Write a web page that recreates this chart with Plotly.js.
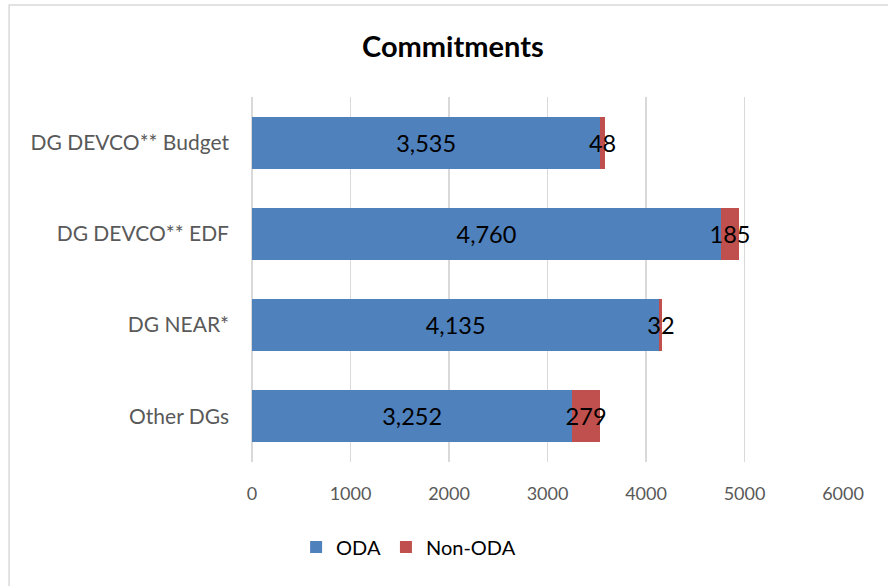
<!DOCTYPE html>
<html>
<head>
<meta charset="utf-8">
<script src="https://cdn.plot.ly/plotly-3.0.1.min.js"></script>
<style>
  body { margin: 0; background: #fff; }
  #chart { width: 888px; height: 586px; }
</style>
</head>
<body>
<div id="chart"></div>
<script>
// categories listed bottom to top
const categories = ["Other DGs", "DG NEAR*", "DG DEVCO** EDF", "DG DEVCO** Budget"];
const odaValues = [3252, 4135, 4760, 3535];
const nonOdaValues = [279, 32, 185, 48];
const xTicks = [0, 1000, 2000, 3000, 4000, 5000, 6000];

const fmt = v => v.toLocaleString("en-US");

const labelFont = { family: "Lato, 'Open Sans', sans-serif", size: 23.5, color: "#000" };

let data = [
  {
    type: "bar",
    orientation: "h",
    name: "ODA",
    y: categories,
    x: odaValues,
    text: odaValues.map(fmt),
    textposition: "inside",
    insidetextanchor: "middle",
    textangle: 0,
    constraintext: "none",
    textfont: labelFont,
    marker: { color: "#4F81BD" },
    hoverinfo: "x+name",
  },
  {
    type: "bar",
    orientation: "h",
    name: "Non-ODA",
    y: categories,
    x: nonOdaValues,
    text: nonOdaValues.map(fmt),
    textposition: "inside",
    insidetextanchor: "middle",
    textangle: 0,
    constraintext: "none",
    textfont: labelFont,
    marker: { color: "#C0504D" },
    hoverinfo: "x+name",
  },
];

let layout = {
  width: 888,
  height: 586,
  margin: { l: 252, r: 45, t: 97, b: 124 },
  barmode: "stack",
  bargap: 0.43,
  paper_bgcolor: "#fff",
  plot_bgcolor: "#fff",
  font: { family: "Lato, 'Open Sans', sans-serif", color: "#595959" },
  title: {
    text: "<b>Commitments</b>",
    font: { size: 29, color: "#000" },
    xref: "container", x: 0.51,
    yref: "container", y: 0.92, yanchor: "middle",
  },
  xaxis: {
    range: [0, 6000],
    tickvals: xTicks,
    ticktext: xTicks.map(String),
    showgrid: true,
    gridcolor: "#D9D9D9",
    gridwidth: 1.5,
    zeroline: true,
    zerolinecolor: "#D9D9D9",
    zerolinewidth: 1.5,
    showline: false,
    ticks: "",
    ticklabelstandoff: 19,
    tickfont: { size: 18, color: "#595959" },
    fixedrange: true,
  },
  yaxis: {
    categoryorder: "array",
    categoryarray: categories,
    showgrid: false,
    showline: false,
    ticks: "",
    ticklabelstandoff: 22,
    tickfont: { size: 21, color: "#595959" },
    fixedrange: true,
  },
  legend: {
    orientation: "h",
    xref: "paper", x: 0.265, xanchor: "center",
    y: -0.233, yanchor: "middle",
    font: { size: 20, color: "#000" },
    itemwidth: 30,
    traceorder: "normal",
  },
  shapes: [
    {
      type: "rect",
      xref: "paper", yref: "paper",
      x0: -0.411, x1: 1.2, y0: -0.342, y1: 1.252,
      line: { color: "#D9D9D9", width: 1.5 },
      layer: "below",
    },
  ],
};

Plotly.newPlot("chart", data, layout, { displayModeBar: false, staticPlot: true });
</script>
</body>
</html>
